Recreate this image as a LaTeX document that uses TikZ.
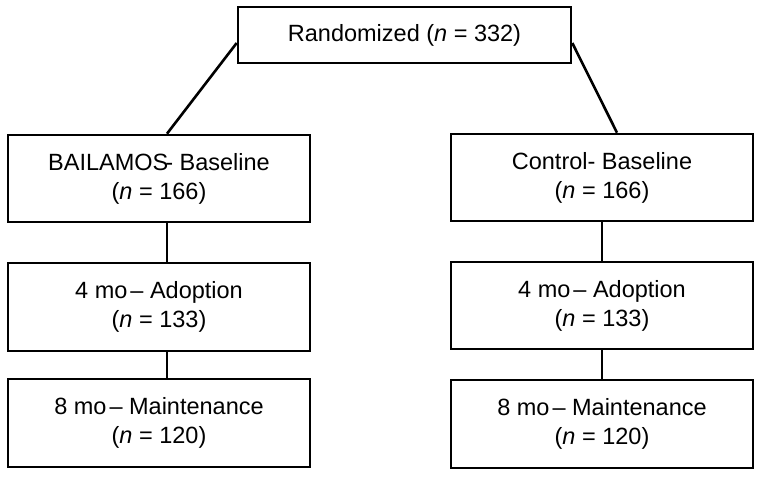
\documentclass[tikz,border=0pt]{standalone}
\usepackage{fontspec}
\setmainfont{Liberation Sans}
\begin{document}
\begin{tikzpicture}[x=1pt,y=-1pt,
  box/.style={draw=black, line width=2.6pt, rectangle, align=center,
    inner sep=0pt, font=\fontsize{23.5}{29}\selectfont},
  link/.style={draw=black, line width=2.6pt}]
\useasboundingbox (0,0) rectangle (762,477);
\node[box, minimum width=333pt, minimum height=56pt] (top) at (404.5,35) {Randomized (\textit{n} = 332)};
\node[box, minimum width=302pt, minimum height=87pt] (lb1) at (159,178.5) {BAILAMOS\kern-3pt- Baseline\\(\textit{n} = 166)};
\node[box, minimum width=302pt, minimum height=88pt] (lb2) at (159,307) {4 mo\hspace{3pt}-- Adoption\\(\textit{n} = 133)};
\node[box, minimum width=302pt, minimum height=88pt] (lb3) at (159,423) {8 mo\hspace{3pt}-- Maintenance\\(\textit{n} = 120)};
\node[box, minimum width=302pt, minimum height=87pt] (rb1) at (602,177.5) {Control- Baseline\\(\textit{n} = 166)};
\node[box, minimum width=302pt, minimum height=87pt] (rb2) at (602,305.5) {4 mo\hspace{3pt}-- Adoption\\(\textit{n} = 133)};
\node[box, minimum width=302pt, minimum height=88pt] (rb3) at (602,424) {8 mo\hspace{3pt}-- Maintenance\\(\textit{n} = 120)};
\coordinate (lx) at (167,0);
\coordinate (rx) at (602,0);
\coordinate (rd) at (617,0);
\draw[link] ([yshift=-8pt]top.west) -- (lb1.north -| lx);
\draw[link] ([yshift=-8pt]top.east) -- (rb1.north -| rd);
\draw[link] (lb1.south -| lx) -- (lb2.north -| lx);
\draw[link] (lb2.south -| lx) -- (lb3.north -| lx);
\draw[link] (rb1.south -| rx) -- (rb2.north -| rx);
\draw[link] (rb2.south -| rx) -- (rb3.north -| rx);
\end{tikzpicture}
\end{document}
